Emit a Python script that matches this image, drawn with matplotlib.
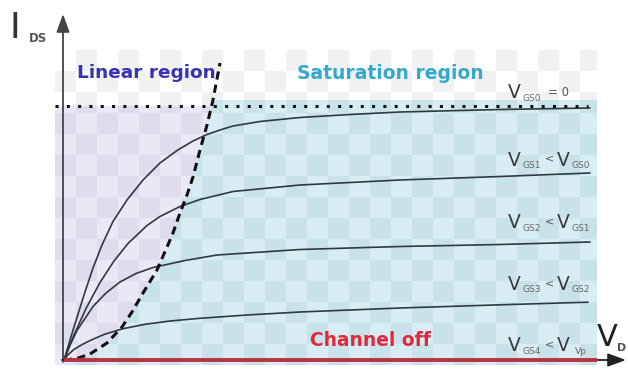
import numpy as np
import matplotlib
matplotlib.use("Agg")
import matplotlib.pyplot as plt
from matplotlib.colors import ListedColormap
from matplotlib.patches import Polygon

# ---- data (V_D and I_DS in arbitrary units) ----
vd_gs0 = [0, 1.0, 2.0, 2.9, 3.8, 4.9, 6.3, 7.9, 9.6, 11.3, 12.9, 14.3, 15.6, 16.9, 19.6, 23.6, 28.6, 33.6, 43.6, 52.6]
id_gs0 = [0, 3.3, 6.5, 9.2, 11.5, 13.85, 16.0, 18.0, 19.7, 20.95, 21.9, 22.55, 23.0, 23.4, 23.85, 24.25, 24.55, 24.8, 25.05, 25.2]

vd_gs1 = [0, 1.0, 2.2, 3.6, 5.0, 6.4, 8.3, 9.6, 11.6, 13.6, 16.9, 23.6, 33.6, 43.6, 52.6]
id_gs1 = [0, 2.5, 5.15, 7.75, 9.9, 11.65, 13.45, 14.35, 15.35, 16.05, 16.85, 17.5, 18.0, 18.35, 18.7]

vd_gs2 = [0, 0.6, 1.3, 2.9, 4.2, 5.6, 7.2, 8.9, 12.1, 15.3, 23.6, 33.6, 43.6, 52.6]
id_gs2 = [0, 1.5, 2.95, 5.35, 6.7, 7.8, 8.65, 9.25, 9.95, 10.5, 11.05, 11.35, 11.55, 11.8]

vd_gs3 = [0, 0.4, 1.0, 1.8, 2.8, 4.1, 5.9, 8.1, 10.6, 13.6, 18.6, 23.6, 33.6, 43.6, 52.4]
id_gs3 = [0, 0.52, 1.06, 1.54, 2.04, 2.59, 3.13, 3.57, 3.9, 4.17, 4.52, 4.8, 5.2, 5.52, 5.78]

vd_off = [0, 53.3]
id_off = [0, 0]

# boundary between linear and saturation region (V_D,sat)
vd_sat = [0, 1.3, 2.6, 4.3, 5.8, 6.8, 7.9, 9.3, 10.3, 10.9, 11.6, 12.3, 12.9, 13.6, 14.3, 14.9, 15.6]
id_sat = [0, 0.15, 0.6, 1.7, 3.3, 4.8, 6.7, 9.0, 11.3, 12.7, 14.7, 16.5, 18.3, 21.0, 23.5, 26.0, 29.7]

idss_level = 25.4          # I_DSS (dotted line)
vd_max = 53.3

labels_main = ["V", "V", "V", "V", "V"]
labels_sub1 = ["GS0", "GS1", "GS2", "GS3", "GS4"]
labels_sub2 = [None, "GS0", "GS1", "GS2", "Vp"]

# ---- figure ----
fig = plt.figure(figsize=(6.28, 3.72), dpi=100)
ax = fig.add_axes([0, 0, 1, 1])
ax.set_xlim(-6.4, 56.4)
ax.set_ylim(-1.2, 36.0)
ax.axis("off")


def P(px, py):
    return ((px - 64) / 10.0, (360 - py) / 10.0)


X0, Y0, S = -0.9, -0.5, 2.1


def checker(c1, c2, clip, zorder=0):
    nx, ny = 28, 16
    arr = np.add.outer(np.arange(ny), np.arange(nx)) % 2
    im = ax.imshow(arr, extent=(X0, X0 + nx * S, Y0, Y0 + ny * S), origin="lower",
                   cmap=ListedColormap([c1, c2]), interpolation="nearest",
                   aspect="auto", zorder=zorder)
    patch = Polygon(clip, closed=True, transform=ax.transData,
                    facecolor="none", edgecolor="none")
    ax.add_patch(patch)
    im.set_clip_path(patch)


vs = np.array(vd_sat)
isat = np.array(id_sat)
v_cross = np.interp(idss_level, isat, vs)
v_top_blue = np.interp(26.0, isat, vs)

# grey checker above the regions
checker("#ffffff", "#f1f1f1",
        [(X0, idss_level), (vd_max, idss_level), (vd_max, 31.0), (X0, 31.0)], zorder=0)

# linear region (lavender)
mask = isat <= idss_level
lin_poly = [(X0, idss_level), (v_cross, idss_level)]
lin_poly += list(zip(vs[mask][::-1], isat[mask][::-1]))
lin_poly += [(0, Y0), (X0, Y0)]
checker("#eae8f5", "#dfdcee", lin_poly, zorder=1)

# saturation region (light blue)
mask2 = isat <= 26.0
sat_poly = [(0, Y0)] + list(zip(vs[mask2], isat[mask2])) + [(v_top_blue, 26.0), (vd_max, 26.0), (vd_max, Y0)]
checker("#d8edf3", "#c8e2ea", sat_poly, zorder=1)

# axes arrows
ax.annotate("", xy=P(63, 14), xytext=P(63, 362),
            arrowprops=dict(arrowstyle="-|>,head_length=1.1,head_width=0.4",
                            color="#444444", lw=1.3, shrinkA=0, shrinkB=0), zorder=5)
ax.annotate("", xy=P(626, 360), xytext=P(62, 360),
            arrowprops=dict(arrowstyle="-|>,head_length=1.1,head_width=0.4",
                            color="#222222", lw=1.3, shrinkA=0, shrinkB=0), zorder=5)

# curves
for vx, iy in [(vd_gs0, id_gs0), (vd_gs1, id_gs1), (vd_gs2, id_gs2), (vd_gs3, id_gs3)]:
    ax.plot(vx, iy, color="#2e3a40", lw=1.2, zorder=4, solid_capstyle="round",
            solid_joinstyle="round")

# channel off line
ax.plot(vd_off, id_off, color="#b8323f", lw=2.8, zorder=6, solid_capstyle="butt")

# I_DSS dotted line
ax.plot([X0, 52.4], [idss_level, idss_level], color="#111111", lw=2.2,
        linestyle=(0, (1.0, 2.7)), zorder=4)

# V_D,sat dashed boundary
ax.plot(vd_sat, id_sat, color="#111111", lw=2.2, linestyle=(0, (2.7, 1.7)), zorder=4)

# region labels
ax.text(*P(77, 73), "Linear region", color="#3a32b4", fontsize=13.3, fontweight="bold",
        ha="left", va="center", zorder=7)
ax.text(*P(297, 73), "Saturation region", color="#35a9cc", fontsize=13.5, fontweight="bold",
        ha="left", va="center", zorder=7)
ax.text(*P(310, 340), "Channel off", color="#e0283c", fontsize=13.4, fontweight="bold",
        ha="left", va="center", zorder=7)

# axis labels
ax.text(*P(15, 28), "I", fontsize=26, color="#333333", ha="center", va="center")
ax.text(*P(38, 38), "DS", fontsize=8.5, color="#555555", ha="center", va="center",
        fontweight="bold")
ax.text(*P(607, 337), "V", fontsize=22, color="#222222", ha="center", va="center")
ax.text(*P(622, 348), "D", fontsize=8, color="#555555", ha="center", va="center",
        fontweight="bold")

# curve labels
label_y = [92.5, 160, 222.5, 284.5, 345.5]
for k, yc in enumerate(label_y):
    ax.text(*P(514.5, yc), labels_main[k], fontsize=13.5, color="#3a3a3a",
            ha="center", va="center", zorder=7)
    ax.text(*P(532, yc + 5.5), labels_sub1[k], fontsize=6.5, color="#666666",
            ha="center", va="center", zorder=7)
    if labels_sub2[k] is None:
        ax.text(*P(558, yc - 0.5), "= 0", fontsize=8.5, color="#555555",
                ha="center", va="center", zorder=7)
    else:
        ax.text(*P(550, yc - 1.5), "<", fontsize=8, color="#555555",
                ha="center", va="center", zorder=7)
        ax.text(*P(563.5, yc), labels_main[k], fontsize=13.5, color="#3a3a3a",
                ha="center", va="center", zorder=7)
        ax.text(*P(581, yc + 5.5), labels_sub2[k], fontsize=6.5, color="#666666",
                ha="center", va="center", zorder=7)

fig.savefig("out.png", dpi=100)
